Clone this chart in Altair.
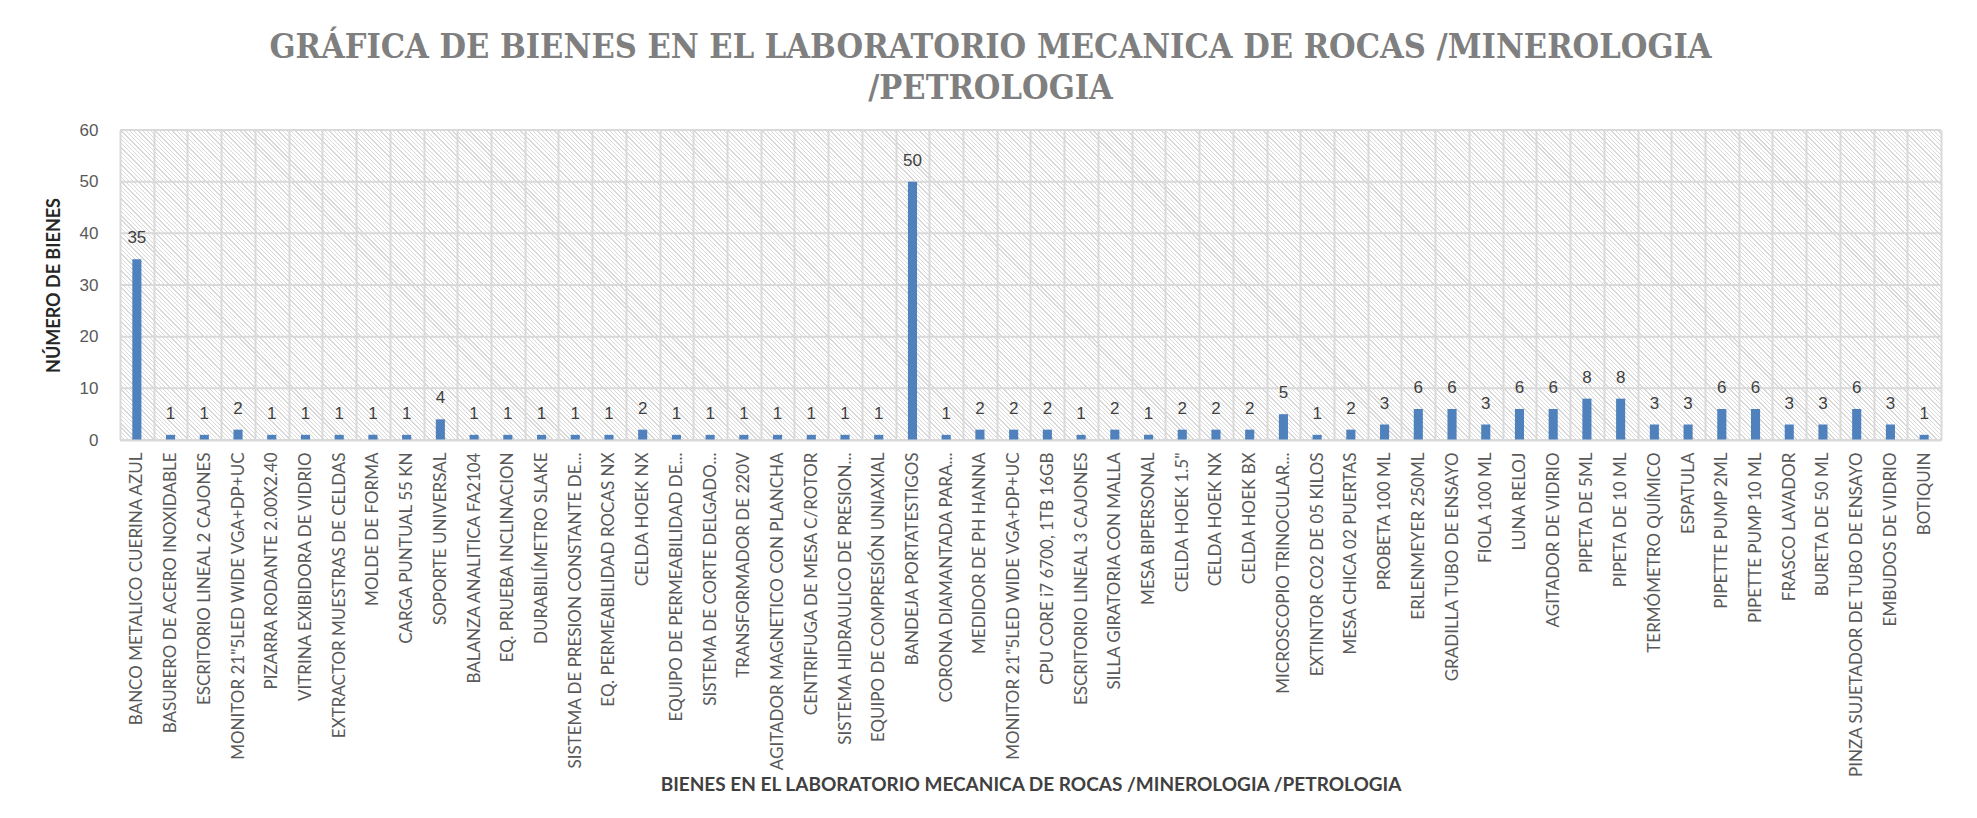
import altair as alt
import pandas as pd

categories = [
    "BANCO METALICO CUERINA AZUL",
    "BASURERO DE ACERO INOXIDABLE",
    "ESCRITORIO LINEAL 2 CAJONES",
    "MONITOR 21\"5LED WIDE VGA+DP+UC",
    "PIZARRA RODANTE 2.00X2.40",
    "VITRINA EXIBIDORA DE VIDRIO",
    "EXTRACTOR MUESTRAS DE CELDAS",
    "MOLDE DE FORMA",
    "CARGA PUNTUAL 55 KN",
    "SOPORTE UNIVERSAL",
    "BALANZA ANALITICA FA2104",
    "EQ. PRUEBA INCLINACION",
    "DURABILÍMETRO SLAKE",
    "SISTEMA DE PRESION CONSTANTE DE...",
    "EQ. PERMEABILIDAD ROCAS NX",
    "CELDA HOEK NX",
    "EQUIPO DE PERMEABILIDAD DE...",
    "SISTEMA DE CORTE DELGADO...",
    "TRANSFORMADOR DE 220V",
    "AGITADOR MAGNETICO CON PLANCHA",
    "CENTRIFUGA DE MESA  C/ROTOR",
    "SISTEMA HIDRAULICO DE PRESION...",
    "EQUIPO DE COMPRESIÓN UNIAXIAL",
    "BANDEJA PORTATESTIGOS",
    "CORONA DIAMANTADA  PARA...",
    "MEDIDOR DE PH HANNA",
    "MONITOR 21\"5LED WIDE VGA+DP+UC ",
    "CPU CORE i7 6700, 1TB 16GB",
    "ESCRITORIO LINEAL 3 CAJONES",
    "SILLA GIRATORIA CON MALLA",
    "MESA BIPERSONAL",
    "CELDA HOEK 1.5\"",
    "CELDA HOEK NX ",
    "CELDA HOEK BX",
    "MICROSCOPIO TRINOCULAR...",
    "EXTINTOR CO2 DE 05 KILOS",
    "MESA CHICA 02 PUERTAS",
    "PROBETA 100 ML",
    "ERLENMEYER 250ML",
    "GRADILLA TUBO DE ENSAYO",
    "FIOLA 100 ML",
    "LUNA RELOJ",
    "AGITADOR DE VIDRIO",
    "PIPETA DE 5ML",
    "PIPETA DE 10 ML",
    "TERMÓMETRO QUÍMICO",
    "ESPATULA",
    "PIPETTE PUMP 2ML",
    "PIPETTE PUMP 10 ML",
    "FRASCO LAVADOR",
    "BURETA DE 50 ML",
    "PINZA SUJETADOR DE TUBO DE ENSAYO",
    "EMBUDOS DE VIDRIO",
    "BOTIQUIN",
]

values = [35, 1, 1, 2, 1, 1, 1, 1, 1, 4,
          1, 1, 1, 1, 1, 2, 1, 1, 1, 1,
          1, 1, 1, 50, 1, 2, 2, 2, 1, 2,
          1, 2, 2, 2, 5, 1, 2, 3, 6, 6,
          3, 6, 6, 8, 8, 3, 3, 6, 6, 3,
          3, 6, 3, 1]

y_ticks = [0, 10, 20, 30, 40, 50, 60]

title_lines = ["GRÁFICA DE BIENES EN EL LABORATORIO MECANICA DE ROCAS /MINEROLOGIA",
               "/PETROLOGIA"]
x_title = "BIENES EN EL LABORATORIO MECANICA DE ROCAS /MINEROLOGIA /PETROLOGIA"
y_title = "NÚMERO DE BIENES"

df = pd.DataFrame({"bien": categories, "n": values})
ticks_df = pd.DataFrame({"n": y_ticks})
bg_df = pd.DataFrame({"k": [0]})

# ---- style ----
PLOT_W, PLOT_H = 1821, 310
GRID = "#d9d9d9"
LABEL_FONT = "Lato"

# diagonal hatch for the plot area, built as a striped linear gradient
r = PLOT_H / PLOT_W
k = (1 + r) / (1 + r * r)
n_stripes = int((PLOT_W + PLOT_H) / 1.4142 / 3.0)
stops = []
for i in range(n_stripes):
    a = i / n_stripes
    b = (i + 0.3) / n_stripes
    c = (i + 1) / n_stripes
    stops += [
        {"offset": a, "color": "#d8d8d8"},
        {"offset": b, "color": "#d8d8d8"},
        {"offset": b, "color": "#ffffff"},
        {"offset": c, "color": "#ffffff"},
    ]
hatch = {"gradient": "linear", "x1": 0, "y1": 1, "x2": k, "y2": 1 - k * r, "stops": stops}

x_axis = alt.Axis(
    title=x_title,
    labelAngle=-90,
    labelFont=LABEL_FONT,
    labelFontSize=17,
    labelColor="#595959",
    labelLimit=400,
    labelPadding=12,
    labelOverlap=False,
    ticks=False,
    domainColor=GRID,
    domainWidth=2,
    grid=True,
    gridColor=GRID,
    gridWidth=2,
    tickBand="extent",
    zindex=1,
    titleFont=LABEL_FONT,
    titleFontSize=19,
    titleFontWeight="bold",
    titleColor="#404040",
    titleBaseline="middle",
    titleY=344,
)

y_axis = alt.Axis(
    title=y_title,
    values=y_ticks,
    domain=False,
    ticks=False,
    grid=False,
    labelFont="Liberation Sans",
    labelFontSize=17,
    labelColor="#595959",
    labelPadding=22,
    titleFont=LABEL_FONT,
    titleFontSize=18,
    titleFontWeight="bold",
    titleColor="#262626",
    titlePadding=16,
)

y_scale = alt.Scale(domain=[0, 60], nice=False)

background = alt.Chart(bg_df).mark_rect(fill=hatch, strokeWidth=0).encode(
    x=alt.value(0), x2=alt.value("width"), y=alt.value(0), y2=alt.value("height")
)

hgrid = alt.Chart(ticks_df).mark_rule(color=GRID, strokeWidth=2).encode(
    y=alt.Y("n:Q", scale=y_scale, axis=y_axis)
)

base = alt.Chart(df)

bars = base.mark_bar(color="#4F81BD", width={"band": 0.27}).encode(
    x=alt.X("bien:N", sort=None, scale=alt.Scale(paddingInner=0, paddingOuter=0), axis=x_axis),
    y=alt.Y("n:Q", scale=y_scale, axis=y_axis),
)

labels = base.mark_text(
    dy=-21,
    baseline="middle",
    font="Liberation Sans",
    fontSize=17,
    color="#404040",
).encode(x=alt.X("bien:N", sort=None), y=alt.Y("n:Q"), text=alt.Text("n:Q"))

chart = (
    alt.layer(background, hgrid, bars, labels)
    .properties(
        width=PLOT_W,
        height=PLOT_H,
        autosize=alt.AutoSizeParams(type="none"),
        padding={"left": 112, "top": 122, "right": 20, "bottom": 360},
        title=alt.TitleParams(
            text=title_lines,
            font="DejaVu Serif Condensed",
            fontSize=34,
            fontWeight="bold",
            color="#7f7f7f",
            anchor="middle",
            dx=-40,
            offset=15,
            lineHeight=41,
        ),
    )
    .configure_view(strokeWidth=0)
)

chart.save("out.html", embed_options={"renderer": "svg", "actions": False})
